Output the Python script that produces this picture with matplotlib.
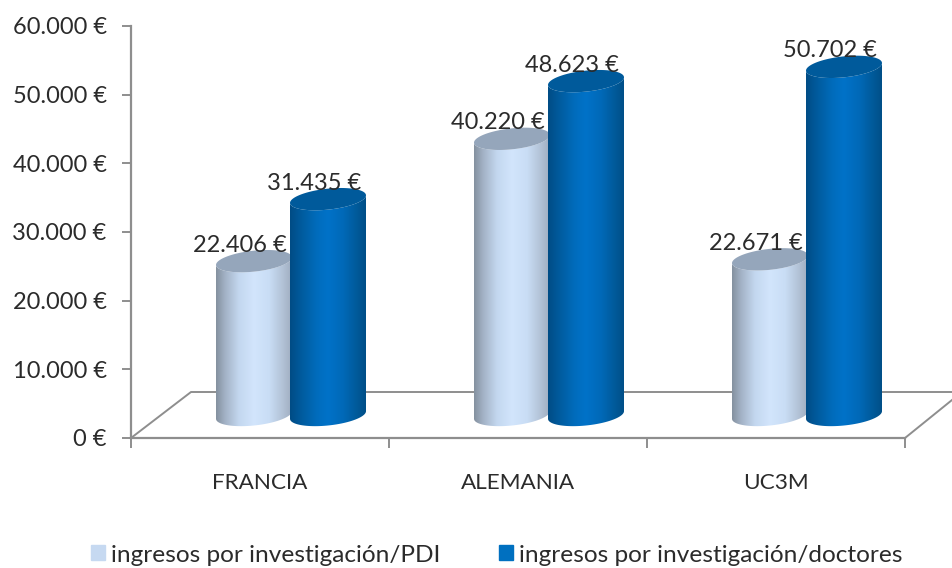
import numpy as np
import matplotlib
matplotlib.use("Agg")
import matplotlib.pyplot as plt
from matplotlib.colors import LinearSegmentedColormap
from matplotlib.patches import PathPatch, Patch
from matplotlib.path import Path

categories = ["FRANCIA", "ALEMANIA", "UC3M"]
pdi = [22406, 40220, 22671]
doctores = [31435, 48623, 50702]
series_names = ["ingresos por investigación/PDI", "ingresos por investigación/doctores"]
y_ticks = [0, 10000, 20000, 30000, 40000, 50000, 60000]

plt.rcParams["font.family"] = ["Lato", "DejaVu Sans"]
text_col = "#2b2b2b"
axis_col = "#8e8e8e"

W, H = 952, 568
fig = plt.figure(figsize=(W / 100, H / 100), dpi=100)
ax = fig.add_axes([131 / W, 1 - 438 / H, 774 / W, 412 / H])
ax.set_xlim(0, 3)
ax.set_ylim(0, 60000)

# size of one pixel in data units
dx = 3 / 774
dy = 60000 / 412

light_cmap = LinearSegmentedColormap.from_list("light", [
    (0, "#84919f"), (0.12, "#a3b2c6"), (0.3, "#c3d7ef"), (0.5, "#d2e5fc"),
    (0.7, "#c9ddf5"), (0.88, "#b2c2d6"), (1, "#9fadc0")])
dark_cmap = LinearSegmentedColormap.from_list("dark", [
    (0, "#004c85"), (0.15, "#005b9e"), (0.35, "#006cbc"), (0.5, "#0072c8"),
    (0.7, "#0069b8"), (0.88, "#005a9a"), (1, "#004f88")])

half_w = 38      # cylinder half width, px
semi = 10.5      # ellipse half height, px
tilt = 0.1       # the ellipses lean up to the right
lift = 23        # base of the cylinders sits above the axis, px
shift = 31       # 3d shift to the right of the category centre, px


def ellipse_pts(xc, yc, t):
    xs = half_w * np.cos(t)
    ys = semi * np.sin(t) + tilt * xs
    return xc + xs * dx, yc + ys * dy


def cylinder(xc, value, cmap, top_col, z):
    y0 = lift * dy
    y1 = y0 + value
    lower = np.linspace(np.pi, 2 * np.pi, 50)
    bx, by = ellipse_pts(xc, y0, lower)
    tx, ty = ellipse_pts(xc, y1, lower[::-1])
    verts = np.column_stack([np.r_[bx, tx], np.r_[by, ty]])
    body = PathPatch(Path(verts), transform=ax.transData, fc="none", ec="none")
    ax.add_patch(body)
    grad = np.linspace(0, 1, 256).reshape(1, -1)
    im = ax.imshow(grad, cmap=cmap, aspect="auto", zorder=z, interpolation="bilinear",
                   extent=[xc - half_w * dx, xc + half_w * dx, 0, y1 + 30 * dy])
    im.set_clip_path(body)
    im.set_clip_on(True)
    fx, fy = ellipse_pts(xc, y1, np.linspace(0, 2 * np.pi, 100))
    ax.fill(fx, fy, color=top_col, lw=0, zorder=z + 0.1, clip_on=False)


for i in range(len(categories)):
    centre = i + 0.5 + shift * dx
    cylinder(centre - 37 * dx, pdi[i], light_cmap, "#95a6bb", 3)
    cylinder(centre + 37 * dx, doctores[i], dark_cmap, "#005a9b", 4)
    for off, val in [(-37, pdi[i]), (37, doctores[i])]:
        ax.annotate(f"{val:,}".replace(",", ".") + " €",
                    (centre + off * dx, val + lift * dy), xytext=(-14, 16),
                    textcoords="offset pixels", ha="center", va="center",
                    fontsize=17, color=text_col, zorder=6, annotation_clip=False)

ax.set_xlim(0, 3)
ax.set_ylim(0, 60000)

# floor of the 3d box
floor_h = 46 * dy
floor_d = 60 * dx
ax.plot([0, floor_d, 3 + 47 * dx], [0, floor_h, floor_h], color=axis_col, lw=1.4,
        clip_on=False, zorder=1)
ax.plot([3, 3 + 47 * dx], [0, 38 * dy], color=axis_col, lw=1.4, clip_on=False, zorder=1)

for s in ["top", "right"]:
    ax.spines[s].set_visible(False)
for s in ["left", "bottom"]:
    ax.spines[s].set_color(axis_col)
    ax.spines[s].set_linewidth(1.6)

ax.set_yticks(y_ticks)
ax.set_yticklabels([f"{v:,}".replace(",", ".") + " €" for v in y_ticks])
ax.tick_params(axis="y", length=6.5, width=1.4, color=axis_col, labelcolor=text_col,
               labelsize=17, pad=11)
ax.set_xticks([0, 1, 2, 3])
ax.set_xticklabels([])
ax.set_xticks([0.5, 1.5, 2.5], minor=True)
ax.set_xticklabels(categories, minor=True)
ax.tick_params(axis="x", which="major", length=7, width=1.4, color=axis_col)
ax.tick_params(axis="x", which="minor", length=0, labelsize=16.2, labelcolor=text_col, pad=25.5)

handles = [Patch(color="#c6d9f1"), Patch(color="#0070c0")]
fig.legend(handles, series_names, loc="center", bbox_to_anchor=(496.5 / W, 1 - 555 / H),
           ncol=2, frameon=False, fontsize=17.6, labelcolor=text_col, handlelength=0.57,
           handleheight=0.57, handletextpad=0.25, columnspacing=2.4)

fig.savefig("out.png", dpi=100)
